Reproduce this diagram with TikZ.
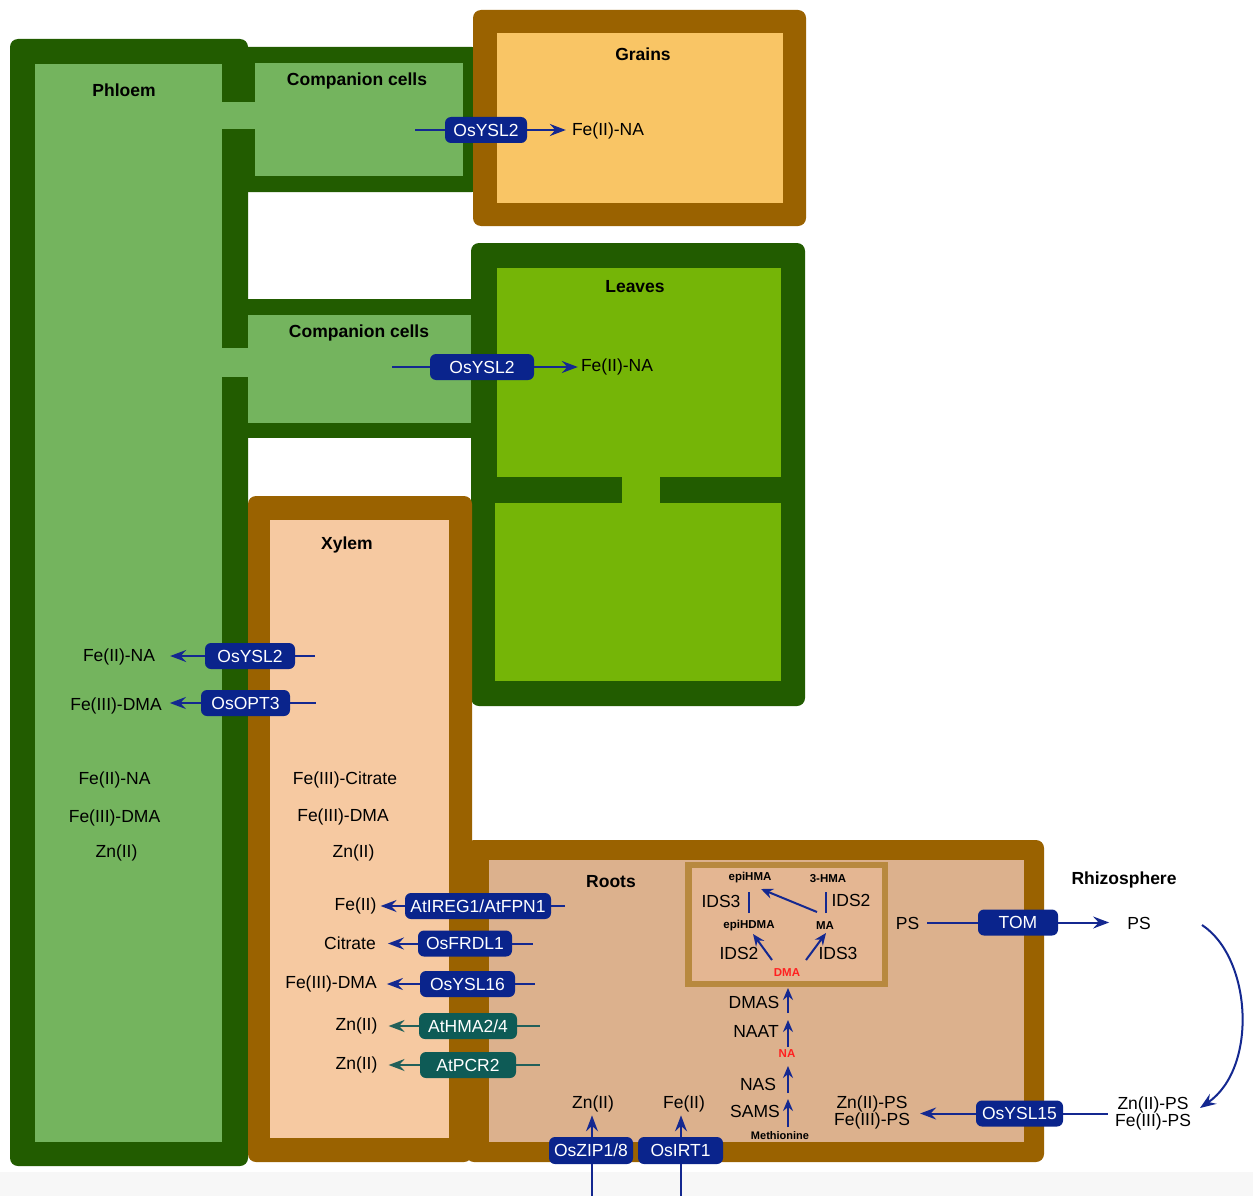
\documentclass[tikz,border=0pt]{standalone}
\usepackage{fontspec}
\setmainfont{Liberation Sans}
\usetikzlibrary{arrows.meta}
\definecolor{dkgreen}{HTML}{225C00}
\definecolor{phloemc}{HTML}{74B45E}
\definecolor{leafc}{HTML}{75B507}
\definecolor{grainc}{HTML}{F9C565}
\definecolor{brownc}{HTML}{9A6200}
\definecolor{xylemc}{HTML}{F6C9A1}
\definecolor{rootc}{HTML}{DCB18D}
\definecolor{dmabord}{HTML}{B8893F}
\definecolor{dmain}{HTML}{E4B692}
\definecolor{trblue}{HTML}{0A248C}
\definecolor{lnblue}{HTML}{142890}
\definecolor{trteal}{HTML}{0E5B56}
\definecolor{lnteal}{HTML}{22605A}
\definecolor{redtxt}{HTML}{FF2020}
\definecolor{bottomgray}{HTML}{F7F7F7}
\newcommand\fsreg{\fontsize{17.5}{17}\selectfont}
\newcommand\fsbold{\fontsize{17.5}{19}\selectfont\bfseries}
\newcommand\fssmall{\fontsize{11.5}{13}\selectfont\bfseries}
\begin{document}
\begin{tikzpicture}[x=1pt,y=-1pt,
  tr/.style={fill=trblue, text=white, rounded corners=6pt, inner xsep=4pt, inner ysep=0pt, minimum height=26pt, font=\fsreg},
  trt/.style={tr, fill=trteal},
  lbl/.style={font=\fsreg, inner sep=2pt, text=black},
  ttl/.style={font=\fsbold, inner sep=2pt},
  sm/.style={font=\fssmall, inner sep=1pt},
  conn/.style={draw=lnblue, line width=2pt},
  arr/.style={conn, -{Stealth[length=16pt,width=12pt,inset=5.5pt]}},
  sarr/.style={conn, line width=2pt, -{Stealth[length=12pt,width=10pt,inset=4pt]}},
  tconn/.style={draw=lnteal, line width=2pt},
  tarr/.style={tconn, -{Stealth[length=16pt,width=12pt,inset=5.5pt]}}
]
\useasboundingbox (0,0) rectangle (1253,1196);
\fill[white] (0,0) rectangle (1253,1196);
\fill[bottomgray] (0,1172) rectangle (1253,1196);

% Phloem and companion cells
\fill[dkgreen, rounded corners=8pt] (10,39) rectangle (248,1166);
\fill[dkgreen, rounded corners=6pt] (230,47) rectangle (478,192);
\fill[dkgreen] (230,299) rectangle (478,438);
\fill[phloemc] (35,64) rectangle (222,1142);
\fill[phloemc] (255,63) rectangle (463,176);
\fill[phloemc] (220,102) rectangle (256,129);
\fill[phloemc] (248,315) rectangle (474,423);
\fill[phloemc] (220,348) rectangle (249,377);

% Grains
\fill[brownc, rounded corners=8pt] (473,10) rectangle (806,226);
\fill[grainc] (497,33) rectangle (783,203);

% Leaves
\fill[dkgreen, rounded corners=8pt] (471,243) rectangle (805,706);
\fill[leafc] (497,268) rectangle (781,477);
\fill[leafc] (495,503) rectangle (781,681);
\fill[leafc] (622,476) rectangle (660,504);

% Xylem and roots
\fill[brownc, rounded corners=8pt] (248,496) rectangle (472,1162);
\fill[brownc, rounded corners=8pt] (466,840) rectangle (1044,1162);
\fill[xylemc] (270,520) rectangle (449,1138);
\fill[rootc] (489,860) rectangle (1024,1142);
\fill[dmabord] (685,862) rectangle (888,987);
\fill[dmain] (692,868) rectangle (882,981);

% Titles
\node[ttl] (tphloem) at (124,90) {Phloem};
\node[ttl] (tcc1) at (357,81) {Companion cells};
\node[ttl] (tgrains) at (643,54) {Grains};
\node[ttl] (tleaves) at (635,287) {Leaves};
\node[ttl] (tcc2) at (359,333) {Companion cells};
\node[ttl] (txylem) at (347,545) {Xylem};
\node[ttl] (troots) at (611,882) {Roots};
\node[ttl] (trhizo) at (1124,880) {Rhizosphere};

% Companion cells -> grains / leaves
\coordinate (c1) at (415,130);
\node[tr, minimum width=82pt] (t1) at (486,130) {OsYSL2};
\node[lbl] (fe1) at (608,131) {Fe(II)-NA};
\draw[conn] (c1) -- (t1.west);
\draw[arr, shorten >=4pt] (t1.east) -- (t1.east -| fe1.west);

\coordinate (c2) at (392,367);
\node[tr, minimum width=104pt] (t2) at (482,367) {OsYSL2};
\node[lbl] (fe2) at (617,367) {Fe(II)-NA};
\draw[conn] (c2) -- (t2.west);
\draw[arr, shorten >=1pt] (t2.east) -- (t2.east -| fe2.west);

% Xylem -> phloem
\coordinate (c3) at (315,656);
\node[tr, minimum width=90pt] (t3) at (250,656) {OsYSL2};
\node[lbl] (fe3) at (119,657) {Fe(II)-NA};
\draw[conn] (t3.east) -- (c3);
\draw[arr, shorten >=13pt] (t3.west) -- (t3.west -| fe3.east);

\coordinate (c4) at (316,703);
\node[tr, minimum width=89pt] (t4) at (245.5,703) {OsOPT3};
\node[lbl] (fe4) at (116,706) {Fe(III)-DMA};
\draw[conn] (t4.east) -- (c4);
\draw[arr, shorten >=6pt] (t4.west) -- (t4.west -| fe4.east);

% Phloem and xylem contents
\node[lbl] (p1) at (114.5,780) {Fe(II)-NA};
\node[lbl] (p2) at (114.5,818) {Fe(III)-DMA};
\node[lbl] (p3) at (116.5,853) {Zn(II)};
\node[lbl] (x1) at (345,780) {Fe(III)-Citrate};
\node[lbl] (x2) at (343,817) {Fe(III)-DMA};
\node[lbl] (x3) at (353.5,853) {Zn(II)};

% Roots -> xylem
\coordinate (c5) at (565,906);
\node[tr, minimum width=146pt] (t5) at (478,906) {AtIREG1/AtFPN1};
\node[lbl] (l5) at (355.5,906) {Fe(II)};
\draw[conn] (t5.east) -- (c5);
\draw[arr, shorten >=2pt] (t5.west) -- (t5.west -| l5.east);

\coordinate (c6) at (533,943.5);
\node[tr, minimum width=94pt] (t6) at (465,943.5) {OsFRDL1};
\node[lbl] (l6) at (350,943) {Citrate};
\draw[conn] (t6.east) -- (c6);
\draw[arr, shorten >=10pt] (t6.west) -- (t6.west -| l6.east);

\coordinate (c7) at (535,984);
\node[tr, minimum width=95pt] (t7) at (467.5,984) {OsYSL16};
\node[lbl] (l7) at (331,984) {Fe(III)-DMA};
\draw[conn] (t7.east) -- (c7);
\draw[arr, shorten >=8pt] (t7.west) -- (t7.west -| l7.east);

\coordinate (c8) at (540,1026);
\node[trt, minimum width=98pt] (t8) at (468,1026) {AtHMA2/4};
\node[lbl] (l8) at (356.5,1026) {Zn(II)};
\draw[tconn] (t8.east) -- (c8);
\draw[tarr, shorten >=9pt] (t8.west) -- (t8.west -| l8.east);

\coordinate (c9) at (540,1065);
\node[trt, minimum width=96pt] (t9) at (468,1065) {AtPCR2};
\node[lbl] (l9) at (356.5,1065) {Zn(II)};
\draw[tconn] (t9.east) -- (c9);
\draw[tarr, shorten >=9pt] (t9.west) -- (t9.west -| l9.east);

% Soil -> roots (bottom)
\coordinate (c10) at (592,1196);
\node[lbl] (l10) at (593,1104) {Zn(II)};
\node[tr, minimum width=84pt, minimum height=27pt] (t10) at (591,1150.5) {OsZIP1/8};
\draw[conn] (c10) -- (c10 |- t10.south);
\draw[arr, shorten >=1pt] (c10 |- t10.north) -- (c10 |- l10.south);

\coordinate (c11) at (681,1196);
\node[lbl] (l11) at (684,1104) {Fe(II)};
\node[tr, minimum width=85pt, minimum height=27pt] (t11) at (680.5,1150.5) {OsIRT1};
\draw[conn] (c11) -- (c11 |- t11.south);
\draw[arr, shorten >=1pt] (c11 |- t11.north) -- (c11 |- l11.south);

% Biosynthesis pathway
\node[sm] (epihma) at (750,878) {epiHMA};
\node[sm] (hma3) at (828,879) {3-HMA};
\node[lbl] (ids3a) at (721,901) {IDS3};
\node[lbl] (ids2a) at (851,900) {IDS2};
\node[sm] (epihdma) at (749,926) {epiHDMA};
\node[sm] (ma) at (825,926) {MA};
\node[lbl] (ids2b) at (739,953) {IDS2};
\node[lbl] (ids3b) at (838,953) {IDS3};
\node[sm, text=redtxt] (dma) at (787,973) {DMA};

\coordinate (b1a) at (749,913); \coordinate (b1b) at (749,892);
\coordinate (b2a) at (826,913); \coordinate (b2b) at (826,892);
\coordinate (m1) at (817,912); \coordinate (m2) at (761,889);
\coordinate (d1) at (772,960); \coordinate (d2) at (753,934);
\coordinate (d3) at (806,960); \coordinate (d4) at (826,933);
\draw[conn, line width=2pt] (b1a) -- (b1b);
\draw[conn, line width=2pt] (b2a) -- (b2b);
\draw[sarr] (m1) -- (m2);
\draw[sarr] (d1) -- (d2);
\draw[sarr] (d3) -- (d4);

\node[lbl] (dmas) at (754,1002) {DMAS};
\node[lbl] (naat) at (756,1031) {NAAT};
\node[sm, text=redtxt] (na) at (787,1054) {NA};
\node[lbl] (nas) at (758,1084) {NAS};
\node[lbl] (sams) at (755,1111) {SAMS};
\node[sm, font=\fontsize{11}{13}\selectfont\bfseries] (meth) at (780,1136) {Methionine};

\coordinate (s0) at (788,1127); \coordinate (s1) at (788,1099);
\coordinate (s2) at (788,1093); \coordinate (s3) at (788,1066);
\coordinate (s4) at (788,1047); \coordinate (s5) at (788,1020);
\coordinate (s6) at (788,1013); \coordinate (s7) at (788,988);
\draw[sarr] (s0) -- (s1);
\draw[sarr] (s2) -- (s3);
\draw[sarr] (s4) -- (s5);
\draw[sarr] (s6) -- (s7);

% Rhizosphere exchange
\node[lbl] (ps1) at (907.5,923) {PS};
\node[tr, minimum width=80pt] (tom) at (1018,922.5) {TOM};
\node[lbl] (ps2) at (1139,923) {PS};
\draw[conn, shorten <=6pt] (tom.west -| ps1.east) -- (tom.west);
\draw[arr, shorten >=16pt] (tom.east) -- (tom.east -| ps2.west);

\coordinate (cA) at (1202,925);
\coordinate (cB) at (1200,1108);
\draw[arr] (cA) .. controls (1252,958) and (1258,1068) .. (cB);

\node[lbl, align=center] (zr) at (1153,1113) {Zn(II)-PS\\Fe(III)-PS};
\node[tr, minimum width=87pt] (ysl15) at (1019.5,1113.5) {OsYSL15};
\node[lbl, align=center] (zl) at (872,1112) {Zn(II)-PS\\Fe(III)-PS};
\draw[conn, shorten <=5pt] (zr.west |- ysl15.east) -- (ysl15.east);
\draw[arr, shorten >=8pt] (ysl15.west) -- (ysl15.west -| zl.east);
\end{tikzpicture}
\end{document}
